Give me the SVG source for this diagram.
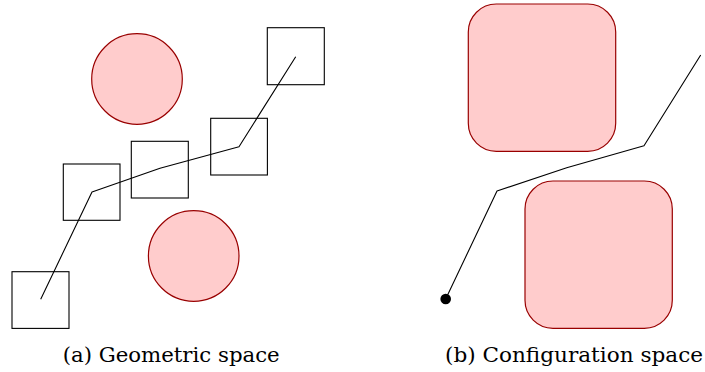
<svg xmlns="http://www.w3.org/2000/svg" width="705" height="372" viewBox="0 0 705 372">
<style>
.obs{fill:#ffcccc;stroke:#990000;stroke-width:1.2}
.robot{fill:none;stroke:#000;stroke-width:1.1}
.path{fill:none;stroke:#000;stroke-width:1.1;stroke-linejoin:round}
.cap{font-family:"DejaVu Serif","Liberation Serif",serif;font-size:20px;fill:#000}
</style>
<rect width="705" height="372" fill="#fff"/>
<g id="obstacle-circle-1"><circle class="obs" cx="137" cy="79" r="45.3"/></g>
<g id="obstacle-circle-2"><circle class="obs" cx="193.7" cy="256" r="45.3"/></g>
<g id="robot-1"><rect class="robot" x="12" y="271.7" width="57" height="56.7"/></g>
<g id="robot-2"><rect class="robot" x="63.3" y="164" width="56.7" height="56.3"/></g>
<g id="robot-3"><rect class="robot" x="131.3" y="141.3" width="57" height="56.7"/></g>
<g id="robot-4"><rect class="robot" x="210.7" y="118.3" width="56.7" height="56.7"/></g>
<g id="robot-5"><rect class="robot" x="267.3" y="27.7" width="57" height="57"/></g>
<g id="cobstacle-1"><rect class="obs" x="468.3" y="4" width="147.4" height="147.3" rx="28" ry="28"/></g>
<g id="cobstacle-2"><rect class="obs" x="525" y="181" width="147.3" height="147.3" rx="28" ry="28"/></g>
<g id="connectors">
<polyline class="path" points="40.7,299.3 92,192 160,168.3 239,146.7 295.7,56.7"/>
<polyline class="path" points="445.7,299 497,191 566.7,167.7 644,145.7 700.7,55"/>
<circle cx="445.7" cy="299" r="5.3" fill="#000"/>
</g>
<g id="captions">
<text class="cap" x="62.7" y="361.5" textLength="217" lengthAdjust="spacingAndGlyphs">(a) Geometric space</text>
<text class="cap" x="445" y="361.5" textLength="258" lengthAdjust="spacingAndGlyphs">(b) Configuration space</text>
</g>
</svg>
